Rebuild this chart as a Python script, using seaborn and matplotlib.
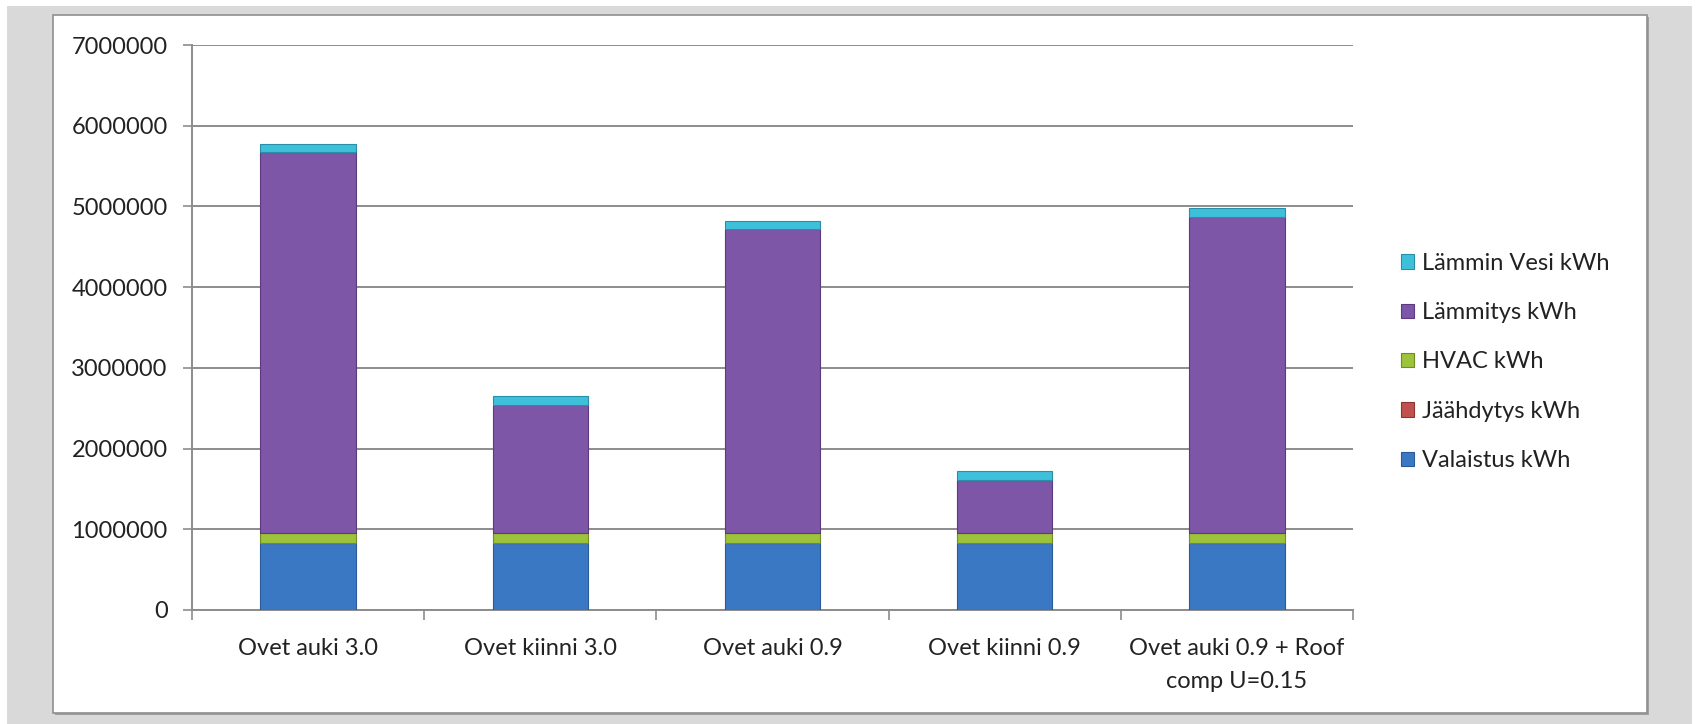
import matplotlib
matplotlib.use("Agg")
import matplotlib.pyplot as plt
import seaborn as sns
import numpy as np
from matplotlib.patches import Rectangle, Patch

# ---- data ----
categories = ["Ovet auki 3.0", "Ovet kiinni 3.0", "Ovet auki 0.9", "Ovet kiinni 0.9",
              "Ovet auki 0.9 + Roof\ncomp U=0.15"]
valaistus = [830000, 830000, 830000, 830000, 830000]
jaahdytys = [5000, 2000, 5000, 2000, 5000]
hvac = [120000, 120000, 120000, 120000, 120000]
lammitys = [4720000, 1590000, 3760000, 655000, 3915000]
lammin_vesi = [100000, 105000, 105000, 110000, 105000]
series_names = ["Valaistus kWh", "Jäähdytys kWh", "HVAC kWh", "Lämmitys kWh", "Lämmin Vesi kWh"]
yticks = [0, 1000000, 2000000, 3000000, 4000000, 5000000, 6000000, 7000000]

series = [valaistus, jaahdytys, hvac, lammitys, lammin_vesi]
colors = ["#3B78C3", "#C0504D", "#9DC33C", "#7D56A8", "#3FC0DA"]
edges = ["#2A5A97", "#8E3432", "#6F8E22", "#5B3A80", "#2A8FA6"]

sns.set_theme(style="white")
plt.rcParams["font.family"] = ["Lato", "DejaVu Sans"]

W, H = 1698, 724
fig = plt.figure(figsize=(W / 100, H / 100), dpi=100)
fig.patch.set_facecolor("white")

# gray outer background and white chart panel
fig.patches.append(Rectangle((7 / W, 0), (1692 - 7) / W, (724 - 6) / H,
                             transform=fig.transFigure, facecolor="#d9d9d9",
                             edgecolor="none", zorder=-10))
fig.patches.append(Rectangle((55 / W, (724 - 715) / H), (1649 - 55) / W, (715 - 17) / H,
                             transform=fig.transFigure, facecolor="#a0a0a0",
                             edgecolor="none", zorder=-9))
fig.patches.append(Rectangle((53 / W, (724 - 713) / H), (1647 - 53) / W, (713 - 15) / H,
                             transform=fig.transFigure, facecolor="white",
                             edgecolor="#8f8f8f", linewidth=1.2, zorder=-8))

ax = fig.add_axes([192 / W, 1 - 610 / H, (1353 - 192) / W, (610 - 45) / H])
ax.set_facecolor("none")

bottom = np.zeros(len(categories))
for vals, col, ec, name in zip(series, colors, edges, series_names):
    sns.barplot(x=categories, y=vals, bottom=bottom, color=col, saturation=1,
                width=0.41, ax=ax, edgecolor=ec, linewidth=0.8, zorder=3)
    bottom = bottom + np.array(vals)

FS = 17
ax.set_ylim(0, 7000000)
ax.set_xlim(-0.5, len(categories) - 0.5)
ax.set_yticks(yticks)
ax.set_yticklabels([str(v) for v in yticks])
ax.yaxis.grid(True, color="#8c8c8c", linewidth=1.4, zorder=0)
ax.set_axisbelow(True)
for s in ["top", "right"]:
    ax.spines[s].set_visible(False)
for s in ["left", "bottom"]:
    ax.spines[s].set_color("#8c8c8c")
    ax.spines[s].set_linewidth(1.4)

ax.tick_params(axis="y", direction="out", length=6.5, width=1.2, color="#8c8c8c",
               pad=11, labelsize=FS, labelcolor="#222222", left=True)
ax.set_xticks(np.arange(-0.5, len(categories)), minor=True)
ax.tick_params(axis="x", which="minor", direction="out", length=7, width=1.2,
               color="#8c8c8c", bottom=True)
ax.tick_params(axis="x", which="major", length=0, pad=20, labelsize=FS,
               labelcolor="#222222")
for lbl in ax.get_xticklabels():
    lbl.set_linespacing(1.7)
ax.set_xlabel("")
ax.set_ylabel("")

# legend (top to bottom reversed order)
handles = [Patch(facecolor=c, edgecolor=e, linewidth=0.8) for c, e in zip(colors, edges)]
leg = fig.legend(handles[::-1], series_names[::-1], loc="center left",
                 bbox_to_anchor=(1392 / W, 1 - 362 / H), frameon=False,
                 fontsize=FS, handlelength=0.55, handleheight=0.55,
                 handletextpad=0.3, labelspacing=1.2, borderaxespad=0)
for t in leg.get_texts():
    t.set_color("#222222")

fig.savefig("out.png", dpi=100, facecolor=fig.get_facecolor())
